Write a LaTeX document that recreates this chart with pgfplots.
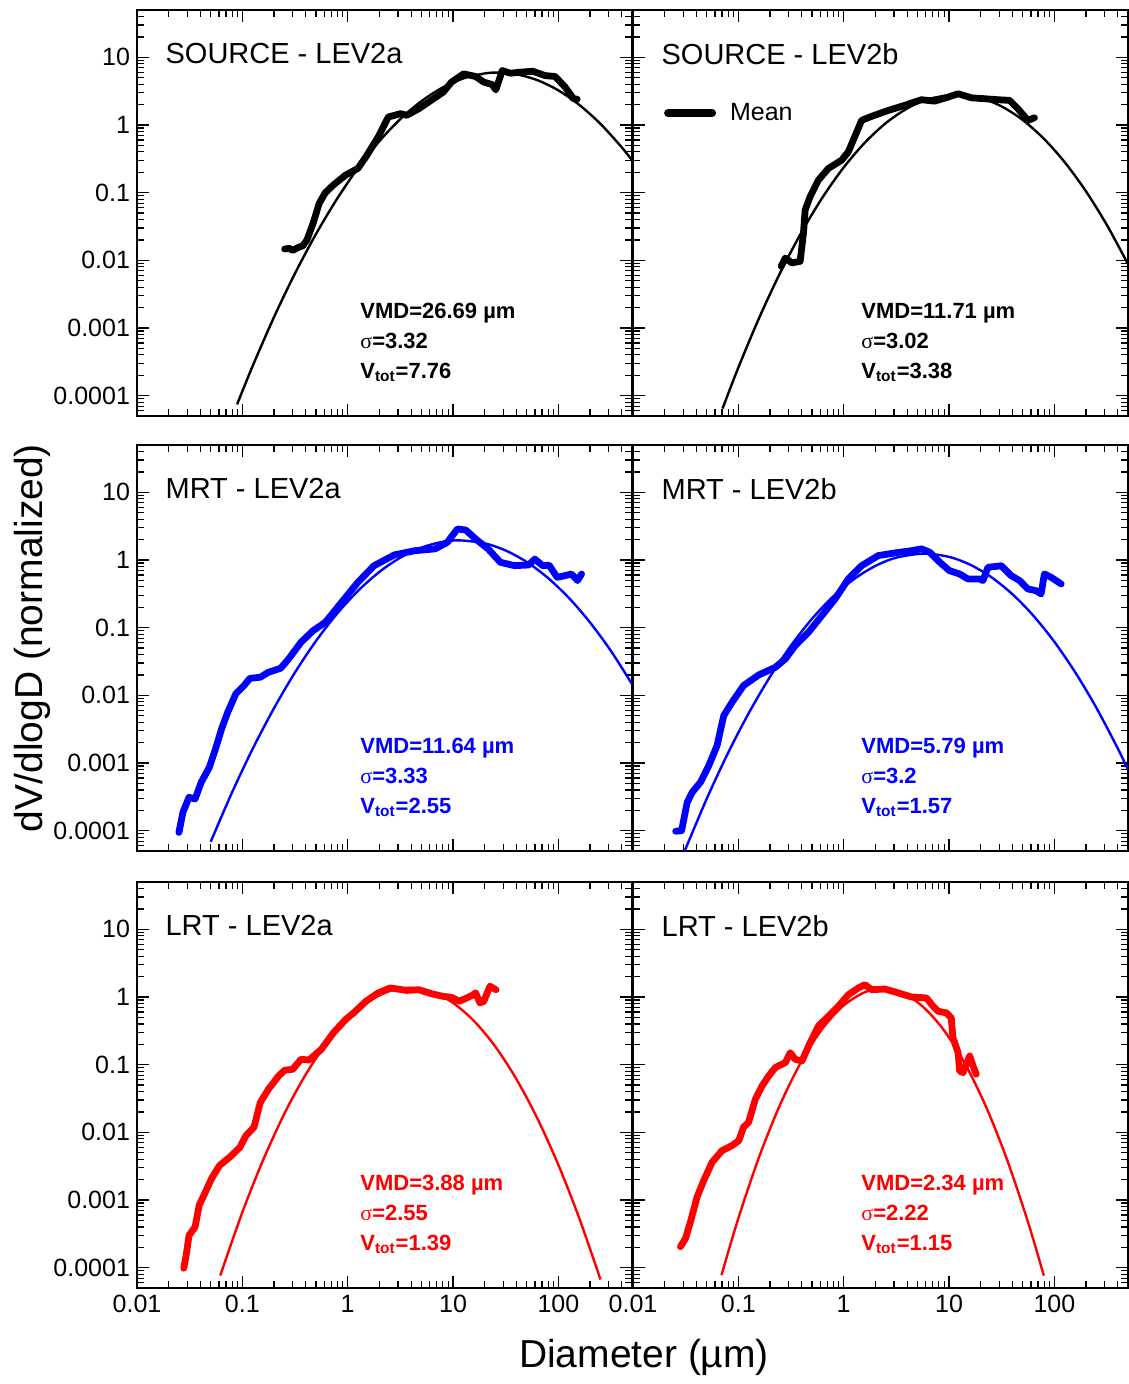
\documentclass[border=0pt]{standalone}
\usepackage{fontspec}
\setmainfont{Liberation Sans}
\newfontfamily\greekserif{Liberation Serif}
\usepackage{pgfplots}
\pgfplotsset{compat=1.18}

% common look of the six panels
\pgfplotsset{every axis/.append style={
    xmode=log, ymode=log,
    scale only axis, width=247.5pt, height=203pt,
    xmin=0.01, xmax=500, ymin=5e-5, ymax=50,
    xtick={0.01,0.1,1,10,100},
    ytick={0.0001,0.001,0.01,0.1,1,10},
    minor xtick={0.02,0.03,0.04,0.05,0.06,0.07,0.08,0.09,
                 0.2,0.3,0.4,0.5,0.6,0.7,0.8,0.9,
                 2,3,4,5,6,7,8,9,20,30,40,50,60,70,80,90,200,300,400},
    minor ytick={6e-5,7e-5,8e-5,9e-5,
                 2e-4,3e-4,4e-4,5e-4,6e-4,7e-4,8e-4,9e-4,
                 0.002,0.003,0.004,0.005,0.006,0.007,0.008,0.009,
                 0.02,0.03,0.04,0.05,0.06,0.07,0.08,0.09,
                 0.2,0.3,0.4,0.5,0.6,0.7,0.8,0.9,
                 2,3,4,5,6,7,8,9,20,30,40},
    tick align=inside,
    major tick length=6pt, minor tick length=3.5pt,
    tick style={black, line width=0.6pt},
    axis line style={line width=1pt},
    ticklabel style={font=\fontsize{12.5}{14}\selectfont},
}}
\tikzset{
  sdmeas/.style={line width=3.4pt, line join=round, line cap=round},
  sdfit/.style={line width=1.2pt, smooth},
}

\newcommand{\ptitle}[1]{\node[anchor=north west, inner sep=0pt,
  font=\fontsize{14.5}{17}\selectfont] at (rel axis cs:0.057,0.919) {#1};}
\newcommand{\pstats}[5]{\node[anchor=north west, inner sep=0pt, align=left,
  text=#5, font=\fontsize{11}{15}\selectfont\bfseries] at (rel axis cs:#4,0.279)
  {VMD=#1 µm\\{\greekserif\mdseries σ}=#2\\V\textsubscript{tot}=#3};}

\begin{document}
\begin{tikzpicture}
\path[use as bounding box] (0,0) rectangle (564pt,-692pt);

% ---------------- SOURCE - LEV2a
\begin{axis}[anchor=north west, at={(68.5pt,-5pt)},
  xticklabels={}, yticklabels={0.0001,0.001,0.01,0.1,1,10}]
\addplot[sdfit, black] coordinates {
 (0.0891,7.42e-5) (0.1259,2.79e-4) (0.1995,1.44e-3) (0.3162,6.41e-3)
 (0.5012,0.0246) (0.7943,0.0814) (1.259,0.233) (1.995,0.574) (3.162,1.224)
 (5.012,2.248) (7.943,3.567) (12.59,4.882) (19.95,5.768) (26.69,5.94)
 (39.81,5.619) (63.10,4.595) (100,3.241) (158.5,1.973) (251.2,1.037)
 (398.1,0.4706) (500,0.3012)};
\addplot[sdmeas, black] coordinates {
 (0.252,0.0147) (0.28,0.0150) (0.30,0.0140) (0.34,0.0155) (0.376,0.0164)
 (0.411,0.0201) (0.47,0.0354) (0.537,0.0697) (0.614,0.10) (0.733,0.13)
 (0.957,0.182) (1.25,0.228) (1.49,0.338) (1.95,0.667) (2.43,1.31)
 (3.18,1.47) (3.63,1.39) (4.74,1.74) (6.19,2.31) (8.08,3.06) (9.66,4.29)
 (12.6,5.69) (16.4,5.2) (19.6,4.29) (23.5,3.96) (25.5,3.3) (29.3,6.37)
 (35.0,5.82) (43.7,6.03) (57.1,6.22) (74.6,5.37) (93.2,5.2) (116,3.62)
 (139,2.44) (151,2.4)};
\ptitle{SOURCE - LEV2a}
\pstats{26.69}{3.32}{7.76}{0.4505}{black}
\end{axis}

% ---------------- SOURCE - LEV2b
\begin{axis}[anchor=north west, at={(316.5pt,-5pt)},
  xticklabels={}, yticklabels={},
  legend style={draw=none, fill=none, at={(0.062,0.746)}, anchor=west,
    inner sep=0pt, font=\fontsize{12.5}{14}\selectfont},
  legend image code/.code={\draw[line width=4pt, line cap=round] (2pt,0pt) -- (24pt,0pt);}]
\addplot[sdfit, black, forget plot] coordinates {
 (0.0708,6.45e-5) (0.1,2.60e-4) (0.1585,1.438e-3) (0.2512,6.68e-3)
 (0.3981,0.0260) (0.6310,0.0855) (1,0.2358) (1.585,0.5464) (2.512,1.065)
 (3.981,1.744) (6.310,2.402) (11.71,2.809) (19.95,2.501) (31.62,1.876)
 (50.12,1.183) (79.43,0.6267) (125.9,0.2793) (199.5,0.1046) (316.2,0.0329)
 (500,8.77e-3)};
\addplot[sdmeas, black] coordinates {
 (0.255,0.00817) (0.279,0.0108) (0.322,0.00914) (0.386,0.00966)
 (0.415,0.0252) (0.431,0.0556) (0.48,0.0873) (0.575,0.153) (0.716,0.228)
 (0.957,0.302) (1.107,0.401) (1.48,1.17) (1.84,1.34) (2.65,1.64)
 (3.80,1.95) (5.47,2.36) (7.31,2.25) (9.79,2.58) (12.2,2.89) (16.3,2.52)
 (21.8,2.44) (29.1,2.36) (37.5,2.31) (45.0,1.74) (56.0,1.17) (64.7,1.28)};
\addlegendentry{\hspace{5pt}Mean}
\ptitle{SOURCE - LEV2b}
\pstats{11.71}{3.02}{3.38}{0.4606}{black}
\end{axis}

% ---------------- MRT - LEV2a
\begin{axis}[anchor=north west, at={(68.5pt,-222.5pt)},
  xticklabels={}, yticklabels={0.0001,0.001,0.01,0.1,1,10}]
\addplot[sdfit, blue] coordinates {
 (0.0501,6.85e-5) (0.0794,3.60e-4) (0.1259,1.639e-3) (0.1995,6.42e-3)
 (0.3162,0.0218) (0.5012,0.0638) (0.7943,0.1613) (1.259,0.3523)
 (1.995,0.6647) (3.162,1.083) (5.012,1.524) (7.943,1.852) (11.64,1.947)
 (19.95,1.761) (31.62,1.379) (50.12,0.9324) (79.43,0.5445) (125.9,0.2747)
 (199.5,0.1196) (316.2,0.0450) (500,0.0147)};
\addplot[sdmeas, blue] coordinates {
 (0.025,9.4e-5) (0.0273,1.87e-4) (0.0312,3.11e-4) (0.0356,2.94e-4)
 (0.0407,5.18e-4) (0.0486,8.63e-4) (0.0556,1.61e-3) (0.0635,3.18e-3)
 (0.0726,5.61e-3) (0.0867,0.0105) (0.1036,0.0139) (0.118,0.0178)
 (0.148,0.0185) (0.177,0.0219) (0.231,0.0251) (0.275,0.0344) (0.36,0.0607)
 (0.47,0.0903) (0.614,0.12) (0.875,0.237) (1.25,0.468) (1.78,0.824)
 (2.78,1.19) (4.34,1.37) (6.76,1.46) (8.83,1.82) (11.0,2.87) (13.2,2.77)
 (16.4,2.04) (21.5,1.46) (28.1,0.925) (38.3,0.824) (52.3,0.844) (59.7,1.03)
 (71.3,0.82) (81.5,0.84) (97.3,0.555) (116,0.587) (133,0.621) (152,0.496)
 (166,0.62)};
\ptitle{MRT - LEV2a}
\pstats{11.64}{3.33}{2.55}{0.4505}{blue}
\end{axis}

% ---------------- MRT - LEV2b
\begin{axis}[anchor=north west, at={(316.5pt,-222.5pt)},
  xticklabels={}, yticklabels={}]
\addplot[sdfit, blue] coordinates {
 (0.0309,4.98e-5) (0.0501,2.963e-4) (0.0794,1.380e-3) (0.1259,5.50e-3)
 (0.1995,0.0187) (0.3162,0.0545) (0.5012,0.1356) (0.7943,0.2882)
 (1.259,0.5243) (1.995,0.8150) (3.162,1.083) (5.79,1.240) (10,1.1105)
 (15.85,0.8524) (25.12,0.5592) (39.81,0.3137) (63.10,0.1505) (100,0.0617)
 (158.5,0.0216) (251.2,6.48e-3) (398.1,1.66e-3) (500,7.98e-4)};
\addplot[sdmeas, blue] coordinates {
 (0.0254,9.8e-5) (0.0289,1.0e-4) (0.0327,2.62e-4) (0.0365,3.69e-4)
 (0.0437,5.18e-4) (0.0524,9.14e-4) (0.0628,1.80e-3) (0.0726,5.0e-3)
 (0.0871,7.89e-3) (0.112,0.0139) (0.156,0.020) (0.224,0.0259) (0.279,0.0344)
 (0.346,0.0542) (0.463,0.0853) (0.619,0.150) (0.828,0.265) (1.107,0.524)
 (1.48,0.824) (2.13,1.16) (3.06,1.27) (4.40,1.37) (5.47,1.46) (6.56,1.30)
 (8.16,0.925) (10.1,0.695) (12.6,0.621) (15.1,0.524) (19.5,0.524)
 (21.0,0.496) (23.4,0.78) (31.3,0.82) (38.9,0.587) (46.7,0.496) (56.0,0.373)
 (67.0,0.352) (74.8,0.315) (80.4,0.621) (93.0,0.555) (116,0.442)};
\ptitle{MRT - LEV2b}
\pstats{5.79}{3.2}{1.57}{0.4606}{blue}
\end{axis}

% ---------------- LRT - LEV2a
\begin{axis}[anchor=north west, at={(68.5pt,-441pt)},
  xticklabels={0.01,0.1,1,10,100}, yticklabels={0.0001,0.001,0.01,0.1,1,10}]
\addplot[sdfit, red] coordinates {
 (0.0617,7.64e-5) (0.1,6.57e-4) (0.1585,3.98e-3) (0.2512,0.0190)
 (0.3981,0.0708) (0.6310,0.2076) (1,0.4779) (1.585,0.8634) (2.512,1.225)
 (3.88,1.364) (6.310,1.192) (10,0.8179) (15.85,0.4406) (25.12,0.1863)
 (39.81,0.0618) (63.10,0.0161) (100,3.30e-3) (158.5,5.29e-4) (251.2,6.67e-5)};
\addplot[sdmeas, red] coordinates {
 (0.0278,9.8e-5) (0.0293,1.53e-4) (0.0312,3.0e-4) (0.0356,4.0e-4)
 (0.039,8.4e-4) (0.0446,1.31e-3) (0.0509,2.06e-3) (0.0608,3.24e-3)
 (0.0759,4.29e-3) (0.0948,6.0e-3) (0.108,8.9e-3) (0.129,0.0119)
 (0.148,0.0276) (0.177,0.0434) (0.221,0.068) (0.252,0.0826) (0.301,0.0854)
 (0.36,0.12) (0.43,0.117) (0.561,0.168) (0.733,0.296) (0.957,0.465)
 (1.14,0.582) (1.49,0.863) (1.95,1.15) (2.54,1.36) (3.63,1.25) (4.74,1.28)
 (6.19,1.12) (8.08,1.02) (9.66,0.99) (11.5,0.863) (15.1,1.05) (16.4,1.15)
 (18.0,0.817) (19.6,0.863) (22.4,1.44) (25.6,1.28)};
\ptitle{LRT - LEV2a}
\pstats{3.88}{2.55}{1.39}{0.4505}{red}
\end{axis}

% ---------------- LRT - LEV2b
\begin{axis}[anchor=north west, at={(316.5pt,-441pt)},
  xticklabels={0.01,0.1,1,10,100}, yticklabels={}]
\addplot[sdfit, red] coordinates {
 (0.0692,7.77e-5) (0.1,5.36e-4) (0.1585,4.45e-3) (0.2512,0.0264)
 (0.3981,0.1125) (0.6310,0.3433) (1,0.7506) (1.585,1.175) (2.34,1.324)
 (3.548,1.156) (5.623,0.7238) (8.913,0.3248) (14.13,0.1044) (22.39,0.0241)
 (35.48,3.97e-3) (56.23,4.70e-4) (79.43,7.61e-5)};
\addplot[sdmeas, red] coordinates {
 (0.0282,2.04e-4) (0.0315,2.7e-4) (0.0351,4.74e-4) (0.0406,1.11e-3)
 (0.047,1.95e-3) (0.0564,3.62e-3) (0.070,5.37e-3) (0.0871,6.37e-3)
 (0.101,7.54e-3) (0.112,0.0119) (0.125,0.0140) (0.145,0.0309) (0.168,0.0485)
 (0.194,0.068) (0.224,0.0903) (0.279,0.107) (0.311,0.15) (0.346,0.12)
 (0.401,0.113) (0.48,0.211) (0.575,0.371) (0.716,0.52) (0.891,0.73)
 (1.107,1.08) (1.38,1.36) (1.59,1.52) (1.84,1.28) (2.46,1.31) (3.29,1.15)
 (4.40,1.0) (6.11,0.966) (7.06,0.73) (7.87,0.615) (9.44,0.582) (10.5,0.491)
 (10.9,0.249) (12.2,0.15) (12.6,0.0807) (13.6,0.0762) (15.7,0.134)
 (16.9,0.0955) (18.1,0.0721)};
\ptitle{LRT - LEV2b}
\pstats{2.34}{2.22}{1.15}{0.4606}{red}
\end{axis}

% shared axis titles
\node[rotate=90, font=\fontsize{19.5}{22}\selectfont] at (16pt,-319pt) {dV/dlogD (normalized)};
\node[anchor=base, font=\fontsize{19.5}{22}\selectfont] at (322pt,-683.5pt) {Diameter (µm)};
\end{tikzpicture}
\end{document}
